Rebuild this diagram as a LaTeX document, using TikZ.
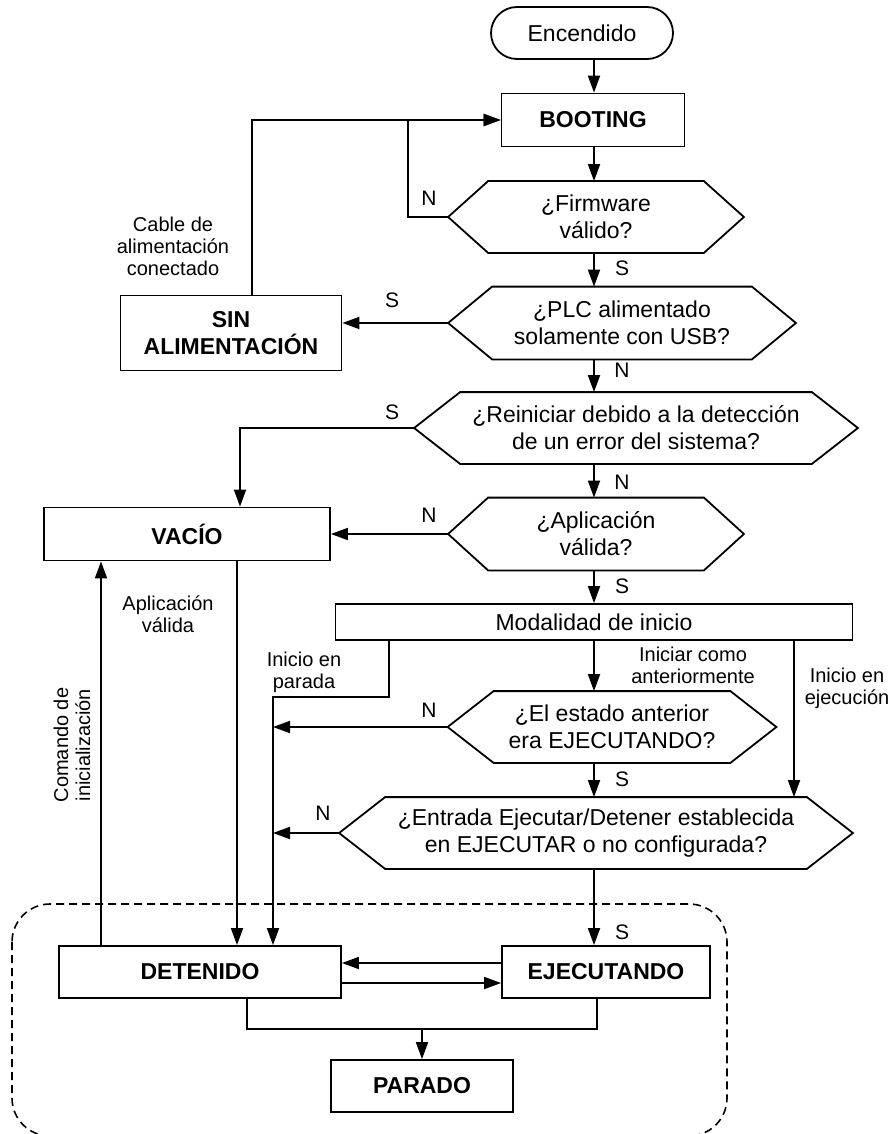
\documentclass[tikz,border=0pt]{standalone}
\usepackage{fontspec}
\setmainfont{Liberation Sans}
\usetikzlibrary{arrows.meta}

\newcommand{\bigtxt}{\fontsize{23}{27}\selectfont}
\newcommand{\smalltxt}{\fontsize{20}{22}\selectfont}
% hexagon outline round a named node
\newcommand{\hexout}[2]{%
  \draw (#1.west) -- ([xshift=#2]#1.north west) -- ([xshift=-#2]#1.north east)
    -- (#1.east) -- ([xshift=-#2]#1.south east) -- ([xshift=#2]#1.south west) -- cycle;}

\begin{document}
\begin{tikzpicture}[x=1pt,y=-1pt,line width=1.8pt,
    >={Triangle[length=17pt,width=12pt]},
    state/.style={draw,rectangle,inner sep=0pt,minimum height=52pt,font=\bigtxt\bfseries,align=center},
    test/.style={rectangle,inner sep=0pt,minimum height=70pt,font=\bigtxt,align=center},
    lbl/.style={font=\smalltxt,align=center},
    yn/.style={font=\fontsize{21}{24}\selectfont}]

    \useasboundingbox (0,0) rectangle (887,1134);

    % states and tests
    \node[state,font=\bigtxt,rounded corners=26pt,minimum width=182pt] (enc) at (582,33) {Encendido};
    \node[state,minimum width=183pt,minimum height=53pt] (boot) at (593,120) {BOOTING};
    \node[test,minimum width=294pt] (fw) at (596,217) {¿Firmware\\válido?};
    \node[test,minimum width=346pt,minimum height=71pt] (plc) at (622,323) {¿PLC alimentado\\solamente con USB?};
    \node[state,minimum width=221pt,minimum height=75pt] (sin) at (231,333) {SIN\\ALIMENTACIÓN};
    \node[test,minimum width=442pt] (rei) at (636,428) {¿Reiniciar debido a la detección\\de un error del sistema?};
    \node[state,minimum width=286pt,minimum height=53pt] (vac) at (187,534) {VACÍO};
    \node[test,minimum width=294pt,minimum height=71pt] (apl) at (596,534) {¿Aplicación\\válida?};
    \node[state,font=\bigtxt,minimum width=517pt,minimum height=36pt] (mod) at (594,622) {Modalidad de inicio};
    \node[test,minimum width=327pt] (est) at (612,727) {¿El estado anterior\\era EJECUTANDO?};
    \node[test,minimum width=512pt] (ent) at (596,833) {¿Entrada Ejecutar/Detener establecida\\en EJECUTAR o no configurada?};
    \node[state,minimum width=282pt] (det) at (200,972) {DETENIDO};
    \node[state,minimum width=208pt] (eje) at (606,972) {EJECUTANDO};
    \node[state,minimum width=182pt] (par) at (422,1086) {PARADO};

    \hexout{fw}{40pt}
    \hexout{plc}{44pt}
    \hexout{rei}{46pt}
    \hexout{apl}{40pt}
    \hexout{est}{46pt}
    \hexout{ent}{46pt}

    % run area
    \draw[line width=1.6pt,dash pattern=on 8pt off 5pt,rounded corners=38pt] (12,904) rectangle (727,1136);

    % main line
    \coordinate (spine) at (594,0);
    \draw[->] (enc.south -| spine) -- (boot.north -| spine);
    \draw[->] (boot.south -| spine) -- (fw.north -| spine);
    \draw[->] (fw.south -| spine) -- (plc.north -| spine);
    \draw[->] (plc.south -| spine) -- (rei.north -| spine);
    \draw[->] (rei.south -| spine) -- (apl.north -| spine);
    \draw[->] (apl.south -| spine) -- (mod.north -| spine);
    \draw[->] (mod.south -| spine) -- (est.north -| spine);
    \draw[->] (est.south -| spine) -- (ent.north -| spine);
    \draw[->] (ent.south -| spine) -- (eje.north -| spine);

    % side branches
    \draw[->] (fw.west) -- ++(-40,0) |- (boot.west);
    \draw[->] (plc.west) -- (plc.west -| sin.east);
    \draw[->] ([xshift=21pt]sin.north) |- (boot.west);
    \draw[->] (rei.west) -| ([xshift=53pt]vac.north);
    \draw[->] (apl.west) -- (apl.west -| vac.east);

    \coordinate (vd) at ([xshift=50pt]vac.south);
    \draw[->] (vd) -- (vd |- det.north);
    \coordinate (dv) at ([xshift=-99pt]det.north);
    \draw[->] (dv) -- (dv |- vac.south);

    \coordinate (mp) at ([xshift=-205pt]mod.south);
    \coordinate (parada) at (273,697);
    \draw[->] (mp) |- (parada) -- (parada |- det.north);
    \draw[->] (est.west) -- (est.west -| parada);
    \draw[->] (ent.west) -- (ent.west -| parada);
    \coordinate (me) at ([xshift=200pt]mod.south);
    \draw[->] (me) -- (me |- ent.north);

    \coordinate (ej1) at ([yshift=9pt]eje.west);
    \draw[->] (ej1) -- (ej1 -| det.east);
    \coordinate (dt1) at ([yshift=-11pt]det.east);
    \draw[->] (dt1) -- (dt1 -| eje.west);

    \coordinate (junc) at (422,1029);
    \draw ([xshift=47pt]det.south) |- (junc) -| ([xshift=-9pt]eje.south);
    \draw[->] (junc) -- (par.north);

    % answers
    \node[yn] (n1) at (429,198) {N};
    \node[yn] (s1) at (622,268) {S};
    \node[yn] (s2) at (392,300) {S};
    \node[yn] (n2) at (622,370) {N};
    \node[yn] (s3) at (392,412) {S};
    \node[yn] (n3) at (622,482) {N};
    \node[yn] (n4) at (429,515) {N};
    \node[yn] (s4) at (622,586) {S};
    \node[yn] (n5) at (429,710) {N};
    \node[yn] (s5) at (622,779) {S};
    \node[yn] (n6) at (323,813) {N};
    \node[yn] (s6) at (622,932) {S};

    % edge texts
    \node[lbl] (cable) at (173,246) {Cable de\\alimentación\\conectado};
    \node[lbl] (aplv) at (168,614) {Aplicación\\válida};
    \node[lbl,rotate=90] (cmd) at (72,745) {Comando de\\inicialización};
    \node[lbl] (ipar) at (304,672) {Inicio en\\parada};
    \node[lbl] (iant) at (693,665) {Iniciar como\\anteriormente};
    \node[lbl] (ieje) at (847,688) {Inicio en\\ejecución};

\end{tikzpicture}
\end{document}
